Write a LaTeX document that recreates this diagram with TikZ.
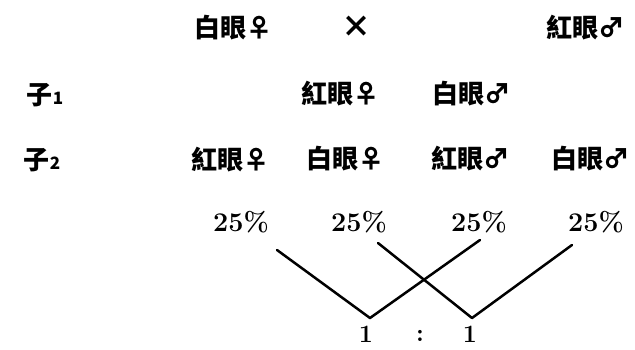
\documentclass[tikz,border=0pt]{standalone}
\usepackage{fontspec}
\newfontfamily\cjk{Noto Sans CJK TC}
\tikzset{
  cj/.style={font=\cjk\bfseries\fontsize{26}{26}\selectfont, inner sep=0pt, anchor=center},
  pct/.style={font=\bfseries\fontsize{27}{27}\selectfont, inner sep=0pt, anchor=center},
  ratio/.style={font=\bfseries\fontsize{25}{25}\selectfont, inner sep=0pt, anchor=center},
  vline/.style={line width=2.5pt, line cap=round, line join=round}
}
\begin{document}
\begin{tikzpicture}[x=1pt,y=-1pt]
\useasboundingbox (0,0) rectangle (635,349);
% row 1
\node[cj] (p1) at (233,28) {白眼♀};
\node[cj] (cross) at (356,27) {\fontsize{30}{30}\selectfont ×};
\node[cj] (p2) at (585,28) {紅眼♂};
% row 2
\node[cj] (f1) at (45,95) {子\fontsize{17}{17}\selectfont 1};
\node[cj] (f1a) at (340,94) {紅眼♀};
\node[cj] (f1b) at (471,94) {白眼♂};
% row 3
\node[cj] (f2) at (42,160) {子\fontsize{17}{17}\selectfont 2};
\node[cj] (f2a) at (230,160) {紅眼♀};
\node[cj] (f2b) at (345,159) {白眼♀};
\node[cj] (f2c) at (470,159) {紅眼♂};
\node[cj] (f2d) at (590,159) {白眼♂};
% row 4
\node[pct] (q1) at (241,222) {25\%};
\node[pct] (q2) at (359,222) {25\%};
\node[pct] (q3) at (479,222) {25\%};
\node[pct] (q4) at (596,222) {25\%};
% ratio
\node[ratio] (r1) at (366,334) {1};
\node[ratio] (rc) at (420,336) {:};
\node[ratio] (r2) at (470,334) {1};
% V connectors
\coordinate (a1) at (277,250);
\coordinate (v1) at (370,318);
\coordinate (b1) at (480,240);
\coordinate (a2) at (378,243);
\coordinate (v2) at (472,318);
\coordinate (b2) at (572,245);
\draw[vline] (a1) -- (v1) -- (b1);
\draw[vline] (a2) -- (v2) -- (b2);
\end{tikzpicture}
\end{document}
